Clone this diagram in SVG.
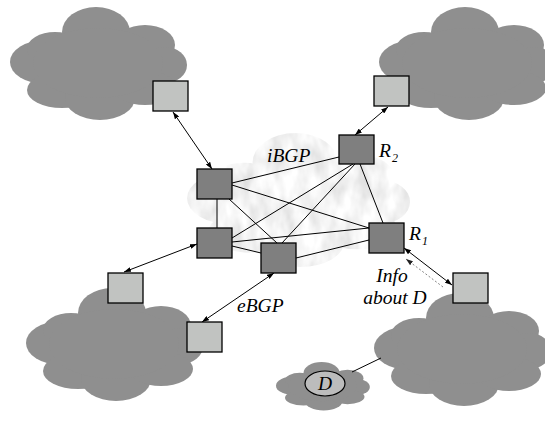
<svg xmlns="http://www.w3.org/2000/svg" xmlns:xlink="http://www.w3.org/1999/xlink" width="545" height="421" viewBox="0 0 545 421">
<style>
.cl{fill:#8f8f8f}
.dk{fill:#7f7f7f;stroke:#000;stroke-width:1.3}
.lt{fill:#c1c3c1;stroke:#000;stroke-width:1.3}
.mesh{stroke:#000;stroke-width:1;fill:none}
.arr{stroke:#000;stroke-width:1;fill:none;marker-start:url(#ah);marker-end:url(#ah)}
.dash{stroke:#666;stroke-width:0.8;fill:none;stroke-dasharray:2,2;marker-end:url(#ah2)}
.lbl{font-family:"Liberation Serif","Times New Roman",serif;font-style:italic;font-size:19.5px;fill:#000}
.sub{font-size:12px}
</style>
<defs>
<marker id="ah" viewBox="0 0 7 5" refX="7" refY="2.5" markerWidth="7" markerHeight="5" markerUnits="userSpaceOnUse" orient="auto-start-reverse"><path d="M0,0 L7,2.5 L0,5 z" fill="#000"/></marker>
<marker id="ah2" viewBox="0 0 7 5" refX="7" refY="2.5" markerWidth="7" markerHeight="5" markerUnits="userSpaceOnUse" orient="auto"><path d="M0,0 L7,2.5 L0,5 z" fill="#222"/></marker>
<g id="cloud">
<ellipse cx="86" cy="25" rx="34" ry="25"/>
<ellipse cx="135" cy="38" rx="30" ry="20"/>
<ellipse cx="155" cy="58" rx="22" ry="18"/>
<ellipse cx="35" cy="55" rx="35" ry="22"/>
<ellipse cx="45" cy="42" rx="28" ry="17"/>
<ellipse cx="52" cy="83" rx="35" ry="18"/>
<ellipse cx="90" cy="91" rx="35" ry="22"/>
<ellipse cx="135" cy="81" rx="32" ry="17"/>
<ellipse cx="88" cy="56" rx="65" ry="35"/>
</g>
<filter id="marble" x="-5%" y="-5%" width="110%" height="110%">
<feTurbulence type="fractalNoise" baseFrequency="0.07 0.035" numOctaves="3" seed="7" result="n"/>
<feColorMatrix in="n" type="matrix" values="0.45 0 0 0 0.68  0.45 0 0 0 0.68  0.45 0 0 0 0.68  0 0 0 0 1" result="g"/>
<feComposite in="g" in2="SourceGraphic" operator="in"/>
</filter>
</defs>

<g id="clouds" class="cl">
<use xlink:href="#cloud" transform="translate(10,7)"/>
<use xlink:href="#cloud" transform="translate(379,7)"/>
<use xlink:href="#cloud" transform="translate(26,288)"/>
<use xlink:href="#cloud" transform="translate(374,293)"/>
<use xlink:href="#cloud" transform="translate(276,362) scale(0.53,0.43)"/>
</g>
<g id="core-cloud" filter="url(#marble)" fill="#e6e6e6">
<use xlink:href="#cloud" transform="translate(187,133) scale(1.26,1.186)"/>
</g>

<g id="connectors">
<line class="mesh" x1="232" y1="183" x2="339" y2="157"/>
<line class="mesh" x1="232" y1="185" x2="369" y2="228"/>
<line class="mesh" x1="229" y1="199" x2="277" y2="243"/>
<line class="mesh" x1="217" y1="199" x2="217" y2="228"/>
<line class="mesh" x1="353" y1="164" x2="232" y2="238"/>
<line class="mesh" x1="355" y1="164" x2="282" y2="243"/>
<line class="mesh" x1="360" y1="164" x2="383" y2="223"/>
<line class="mesh" x1="232" y1="242" x2="369" y2="228"/>
<line class="mesh" x1="232" y1="246" x2="261" y2="253"/>
<line class="mesh" x1="296" y1="258" x2="369" y2="240"/>
<line class="arr" x1="173" y1="112" x2="212" y2="169"/>
<line class="arr" x1="388" y1="107" x2="355" y2="135"/>
<line class="arr" x1="197" y1="244" x2="124" y2="272"/>
<line class="arr" x1="274" y1="273" x2="202" y2="322"/>
<line class="arr" x1="404" y1="248" x2="452" y2="285"/>
<line class="dash" x1="443" y1="287" x2="406" y2="259"/>
<line class="mesh" x1="352" y1="372" x2="381" y2="358"/>
</g>

<g id="router-A"><rect class="dk" x="197" y="169" width="35" height="30"/></g>
<g id="router-R2"><rect class="dk" x="339" y="135" width="35" height="29"/></g>
<g id="router-B"><rect class="dk" x="197" y="228" width="35" height="30"/></g>
<g id="router-C"><rect class="dk" x="261" y="243" width="35" height="30"/></g>
<g id="router-R1"><rect class="dk" x="369" y="223" width="35" height="30"/></g>

<g id="ext-TL"><rect class="lt" x="153" y="81" width="35" height="30"/></g>
<g id="ext-TR"><rect class="lt" x="374" y="76" width="35" height="30"/></g>
<g id="ext-BL1"><rect class="lt" x="108" y="273" width="35" height="30"/></g>
<g id="ext-BL2"><rect class="lt" x="187" y="322" width="35" height="30"/></g>
<g id="ext-BR"><rect class="lt" x="453" y="273" width="35" height="30"/></g>

<g id="dest-D">
<ellipse cx="325" cy="383.5" rx="20" ry="12.5" fill="#bcbcbc" stroke="#000" stroke-width="1.2"/>
<text class="lbl" x="325" y="390" text-anchor="middle">D</text>
</g>

<g id="labels">
<text class="lbl" x="267" y="162">iBGP</text>
<text class="lbl" x="379" y="157">R<tspan class="sub" x="392" y="162">2</tspan></text>
<text class="lbl" x="409" y="240">R<tspan class="sub" x="422" y="245">1</tspan></text>
<text class="lbl" x="237" y="312">eBGP</text>
<text class="lbl" x="392" y="282" text-anchor="middle">Info</text>
<text class="lbl" x="395" y="304" text-anchor="middle">about D</text>
</g>
</svg>
